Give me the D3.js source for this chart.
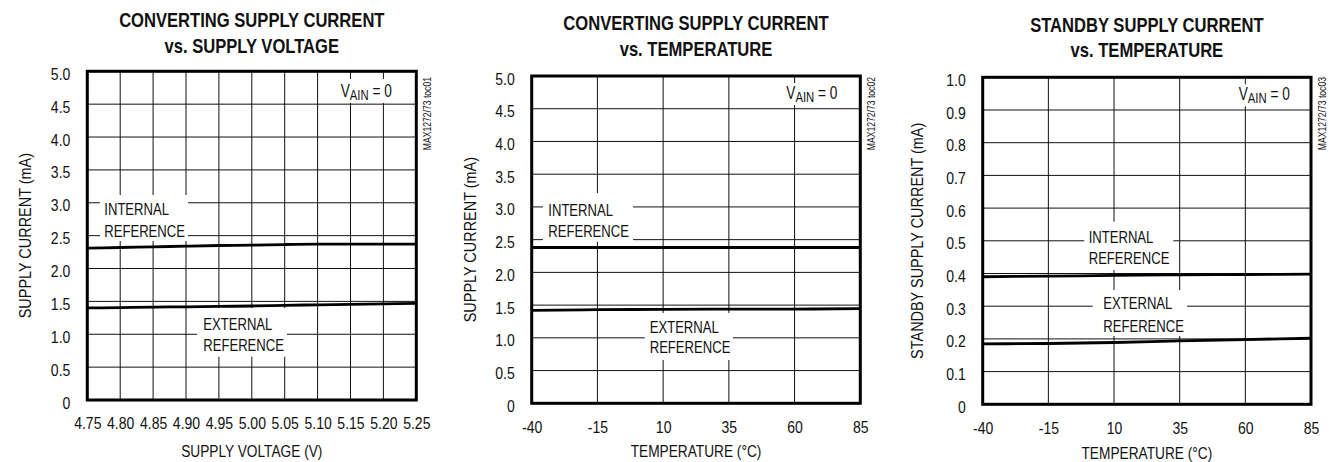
<!DOCTYPE html>
<html><head><meta charset="utf-8">
<script src="https://cdn.jsdelivr.net/npm/d3@7"></script>
<style>body{margin:0;background:#fff} svg{display:block}</style>
</head><body>
<svg id="chart" width="1330" height="462"></svg>
<script>
// ---------------- DATA ----------------
const voltageTicks = [4.75, 4.80, 4.85, 4.90, 4.95, 5.00, 5.05, 5.10, 5.15, 5.20, 5.25];
const voltageTickLabels = ["4.75","4.80","4.85","4.90","4.95","5.00","5.05","5.10","5.15","5.20","5.25"];
const temperatureTicks = [-40, -15, 10, 35, 60, 85];
const temperatureTickLabels = ["-40","-15","10","35","60","85"];
const currentTicks = [0, 0.5, 1.0, 1.5, 2.0, 2.5, 3.0, 3.5, 4.0, 4.5, 5.0];
const currentTickLabels = ["0","0.5","1.0","1.5","2.0","2.5","3.0","3.5","4.0","4.5","5.0"];
const standbyTicks = [0, 0.1, 0.2, 0.3, 0.4, 0.5, 0.6, 0.7, 0.8, 0.9, 1.0];
const standbyTickLabels = ["0","0.1","0.2","0.3","0.4","0.5","0.6","0.7","0.8","0.9","1.0"];

// supply current (mA) vs supply voltage, at voltageTicks
const convVsVoltageInternal = [2.31, 2.32, 2.33, 2.34, 2.35, 2.355, 2.365, 2.37, 2.37, 2.37, 2.37];
const convVsVoltageExternal = [1.40, 1.405, 1.412, 1.418, 1.424, 1.43, 1.44, 1.448, 1.455, 1.462, 1.47];
// supply current (mA) vs temperature, at temperatureTicks
const convVsTempInternal = [2.38, 2.38, 2.38, 2.38, 2.38, 2.38];
const convVsTempExternal = [1.42, 1.43, 1.435, 1.44, 1.44, 1.445];
// standby supply current (mA) vs temperature, at temperatureTicks
const standbyVsTempInternal = [0.390, 0.392, 0.394, 0.396, 0.397, 0.398];
const standbyVsTempExternal = [0.185, 0.186, 0.189, 0.194, 0.198, 0.202];

const titles = [["CONVERTING SUPPLY CURRENT","vs. SUPPLY VOLTAGE"],
                ["CONVERTING SUPPLY CURRENT","vs. TEMPERATURE"],
                ["STANDBY SUPPLY CURRENT","vs. TEMPERATURE"]];
const xAxisTitles = ["SUPPLY VOLTAGE (V)","TEMPERATURE (°C)","TEMPERATURE (°C)"];
const yAxisTitles = ["SUPPLY CURRENT (mA)","SUPPLY CURRENT (mA)","STANDBY SUPPLY CURRENT (mA)"];
const figureIds = ["MAX1272/73 toc01","MAX1272/73 toc02","MAX1272/73 toc03"];
const internalLabel = ["INTERNAL","REFERENCE"];
const externalLabel = ["EXTERNAL","REFERENCE"];

// ---------------- LAYOUT ----------------
const FONT = "'Liberation Sans', Arial, Helvetica, sans-serif";
const NARROW = 0.82;
const panels = [
  {L:87.3, R:416.3, T:71.3, B:400, titleY:[27.3,53.3], xTitleY:456.5, yTitleX:-56.3,
   xTicks:voltageTicks, xLabels:voltageTickLabels, yTicks:currentTicks, yLabels:currentTickLabels,
   internal:convVsVoltageInternal, external:convVsVoltageExternal,
   inBox:[12.7,123.7,88,46], inText:[17,143.7,165.4],
   exBox:[109.7,236.7,90,48.7], exText:[116,258.7,279.7],
   vBox:[250.7,7.7,57,24], vText:[253.4,25.7]},
  {L:531.7, R:860.3, T:76, B:403.3, titleY:[30,56], xTitleY:457.3, yTitleX:-56.2,
   xTicks:temperatureTicks, xLabels:temperatureTickLabels, yTicks:currentTicks, yLabels:currentTickLabels,
   internal:convVsTempInternal, external:convVsTempExternal,
   inBox:[11.3,117,90,48.7], inText:[16.6,139.7,161.3],
   exBox:[113,237,88.3,47], exText:[118,257,277.3],
   vBox:[252.3,7,56,22], vText:[254.6,23]},
  {L:982.7, R:1311, T:77.3, B:404.3, titleY:[31.7,57.3], xTitleY:458.5, yTitleX:-59.7,
   xTicks:temperatureTicks, xLabels:temperatureTickLabels, yTicks:standbyTicks, yLabels:standbyTickLabels,
   internal:standbyVsTempInternal, external:standbyVsTempExternal,
   inBox:[101.6,144.4,89,48.3], inText:[106,165.4,186.7],
   exBox:[110,212.7,94.3,46], exText:[120.6,232,254.4],
   vBox:[253.3,7,58,22], vText:[256,22.7]}
];

const svg = d3.select("#chart");
svg.append("rect").attr("width",1330).attr("height",462).attr("fill","#fff");

function narrowText(parent, x, y, str, size, opts = {}) {
  const g = parent.append("g").attr("transform", `translate(${x},${y})${opts.rotate ? " rotate(" + opts.rotate + ")" : ""}`);
  return g.append("text")
    .attr("transform", `scale(${opts.scale || NARROW},1)`)
    .attr("font-family", FONT)
    .attr("font-size", size)
    .attr("font-weight", opts.bold ? "bold" : "normal")
    .attr("text-anchor", opts.anchor || "start")
    .attr("fill", "#111")
    .text(str);
}

panels.forEach((p, i) => {
  const g = svg.append("g");
  const x = d3.scaleLinear().domain(d3.extent(p.xTicks)).range([p.L, p.R]);
  const y = d3.scaleLinear().domain(d3.extent(p.yTicks)).range([p.B, p.T]);
  const cx = (p.L + p.R) / 2, cy = (p.T + p.B) / 2;

  // titles
  titles[i].forEach((t, k) => narrowText(g, cx, p.titleY[k], t, 20, {bold:true, anchor:"middle", scale:0.83}));

  // grid
  const grid = g.append("g").attr("stroke", "#111").attr("stroke-width", 1);
  grid.selectAll(".vx").data(p.xTicks.slice(1, -1)).join("line")
    .attr("x1", d => x(d)).attr("x2", d => x(d)).attr("y1", p.T).attr("y2", p.B);
  grid.selectAll(".hy").data(p.yTicks.slice(1, -1)).join("line")
    .attr("x1", p.L).attr("x2", p.R).attr("y1", d => y(d)).attr("y2", d => y(d));

  // label knock-out boxes
  [p.inBox, p.exBox, p.vBox].forEach(b => {
    g.append("rect").attr("x", p.L + b[0]).attr("y", p.T + b[1]).attr("width", b[2]).attr("height", b[3]).attr("fill", "#fff");
  });

  // data lines
  const line = d3.line().x((d, k) => x(p.xTicks[k])).y(d => y(d)).curve(d3.curveMonotoneX);
  [p.internal, p.external].forEach(s => {
    g.append("path").datum(s).attr("d", line).attr("fill", "none")
      .attr("stroke", "#000").attr("stroke-width", 2.8).attr("stroke-linejoin", "round");
  });

  // frame
  g.append("rect").attr("x", p.L).attr("y", p.T).attr("width", p.R - p.L).attr("height", p.B - p.T)
    .attr("fill", "none").attr("stroke", "#000").attr("stroke-width", 3);

  // axes
  const sx = 0.85;
  const xAxis = d3.axisBottom(x).tickValues(p.xTicks).tickFormat((d, k) => p.xLabels[k]).tickSize(0);
  const xa = g.append("g").attr("transform", `translate(0,${p.B})`).call(xAxis);
  xa.select(".domain").remove();
  xa.selectAll("text").attr("y", 29.5).attr("dy", null)
    .attr("transform", `scale(${sx},1)`)
    .attr("font-family", FONT).attr("font-size", 16.5).attr("fill", "#111");

  const yAxis = d3.axisLeft(y).tickValues(p.yTicks).tickFormat((d, k) => p.yLabels[k]).tickSize(0);
  const ya = g.append("g").attr("transform", `translate(${p.L},0)`).call(yAxis);
  ya.select(".domain").remove();
  ya.selectAll("text").attr("x", -17 / sx).attr("y", 8).attr("dy", null)
    .attr("transform", `scale(${sx},1)`)
    .attr("font-family", FONT).attr("font-size", 16.5).attr("fill", "#111");

  // axis titles
  narrowText(g, cx, p.xTitleY, xAxisTitles[i], 16.5, {anchor:"middle", scale:0.83});
  narrowText(g, p.L + p.yTitleX, cy, yAxisTitles[i], 17, {anchor:"middle", scale:0.85, rotate:-90});

  // series labels
  internalLabel.forEach((t, k) => narrowText(g, p.L + p.inText[0], p.T + p.inText[k + 1], t, 17, {scale:0.77}));
  externalLabel.forEach((t, k) => narrowText(g, p.L + p.exText[0], p.T + p.exText[k + 1], t, 17, {scale:0.77}));

  // V_AIN = 0
  const vt = narrowText(g, p.L + p.vText[0], p.T + p.vText[1], "", 17.5, {scale:0.78});
  vt.append("tspan").text("V");
  vt.append("tspan").attr("font-size", 14.5).attr("dy", 3).text("AIN");
  vt.append("tspan").attr("dy", -3).text(" = 0");

  // figure id
  narrowText(g, p.R + 15, 77, figureIds[i], 10.5, {anchor:"end", scale:0.82, rotate:-90});
});
</script>
</body></html>
